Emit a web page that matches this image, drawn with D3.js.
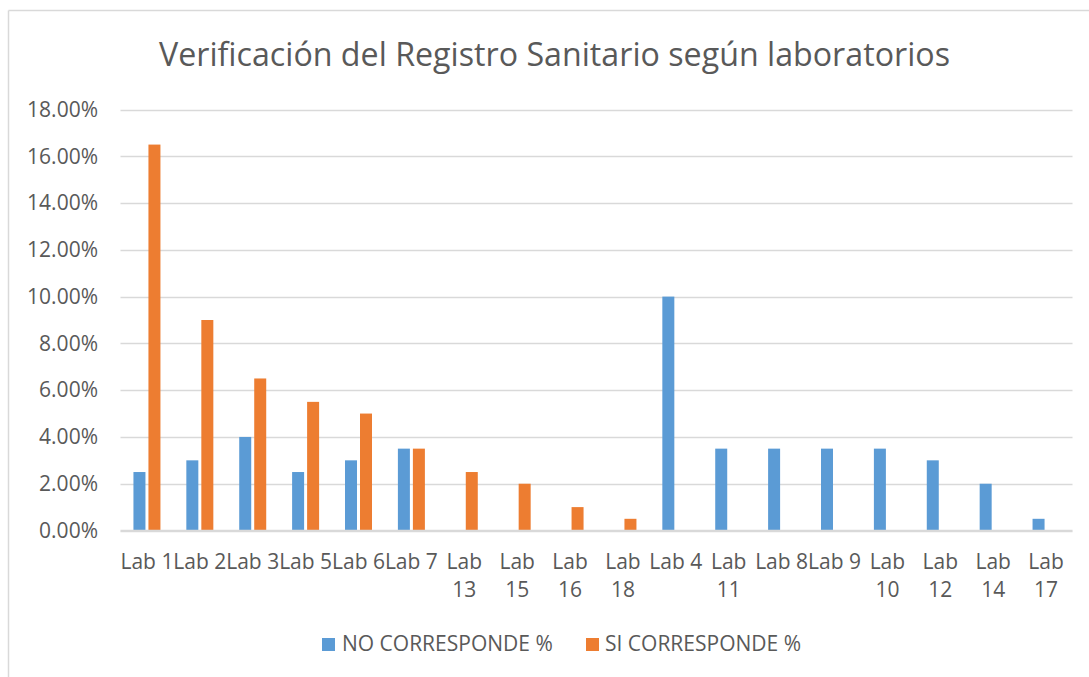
<!DOCTYPE html>
<html>
<head>
<meta charset="utf-8">
<script src="https://cdn.jsdelivr.net/npm/d3@7/dist/d3.min.js"></script>
<style>
  html, body { margin: 0; padding: 0; background: #ffffff; }
  svg { display: block; }
  text { font-family: "Open Sans", "Noto Sans", sans-serif; fill: #595959; }
</style>
</head>
<body>
<svg id="chart" width="1089" height="677"></svg>
<script>
const title = "Verificación del Registro Sanitario según laboratorios";
const categories = ["Lab 1","Lab 2","Lab 3","Lab 5","Lab 6","Lab 7","Lab 13","Lab 15","Lab 16","Lab 18","Lab 4","Lab 11","Lab 8","Lab 9","Lab 10","Lab 12","Lab 14","Lab 17"];
const seriesNames = ["NO CORRESPONDE %", "SI CORRESPONDE %"];
const noCorresponde = [2.5, 3.0, 4.0, 2.5, 3.0, 3.5, 0, 0, 0, 0, 10.0, 3.5, 3.5, 3.5, 3.5, 3.0, 2.0, 0.5];
const siCorresponde = [16.5, 9.0, 6.5, 5.5, 5.0, 3.5, 2.5, 2.0, 1.0, 0.5, 0, 0, 0, 0, 0, 0, 0, 0];
const yTicks = [0, 2, 4, 6, 8, 10, 12, 14, 16, 18];
const colors = ["#5B9BD5", "#ED7D31"];

const svg = d3.select("#chart");

// chart frame (left/top border)
svg.append("line").attr("x1", 8.5).attr("x2", 8.5).attr("y1", 10.5).attr("y2", 677)
  .attr("stroke", "#D9D9D9").attr("stroke-width", 1.5);
svg.append("line").attr("x1", 8.5).attr("x2", 1089).attr("y1", 10.5).attr("y2", 10.5)
  .attr("stroke", "#D9D9D9").attr("stroke-width", 1.5);

const plot = { left: 120.5, right: 1072.5, top: 109.5, bottom: 530.5 };

const x = d3.scaleBand().domain(categories).range([plot.left, plot.right]).padding(0);
const y = d3.scaleLinear().domain([0, 18]).range([plot.bottom, plot.top]);

// title
svg.append("text").attr("x", 159).attr("y", 66).attr("text-anchor", "start")
  .attr("font-size", 32).attr("textLength", 791).attr("lengthAdjust", "spacingAndGlyphs")
  .text(title);

// gridlines
svg.append("g").selectAll("line").data(yTicks).join("line")
  .attr("x1", plot.left).attr("x2", plot.right)
  .attr("y1", d => Math.round(y(d)) + 0.5).attr("y2", d => Math.round(y(d)) + 0.5)
  .attr("stroke", "#D9D9D9").attr("stroke-width", 1.3);

// y axis labels
const yAxis = d3.axisLeft(y).tickValues(yTicks).tickFormat(d => d.toFixed(2) + "%").tickSize(0).tickPadding(0);
const gy = svg.append("g").attr("transform", `translate(${98},0)`).call(yAxis);
gy.select(".domain").remove();
gy.selectAll("text").attr("font-size", 21).attr("fill", "#595959")
  .style("font-family", '"Open Sans", "Noto Sans", sans-serif');

// bars
const barW = 12, gap = 3;
const rows = categories.map((c, i) => ({ c, v: [noCorresponde[i], siCorresponde[i]] }));
const groups = svg.append("g").selectAll("g").data(rows).join("g")
  .attr("transform", d => `translate(${x(d.c) + x.bandwidth() / 2},0)`);
groups.selectAll("rect").data(d => d.v.map((v, k) => ({ v, k }))).join("rect")
  .filter(d => d.v > 0)
  .attr("x", d => d.k === 0 ? -(barW + gap / 2) : gap / 2)
  .attr("width", barW)
  .attr("y", d => y(d.v))
  .attr("height", d => y(0) - y(d.v))
  .attr("fill", d => colors[d.k]);

// x axis baseline
svg.append("line").attr("x1", plot.left).attr("x2", plot.right)
  .attr("y1", plot.bottom).attr("y2", plot.bottom)
  .attr("stroke", "#D9D9D9").attr("stroke-width", 1.5);

// x labels
const xl = svg.append("g").selectAll("text").data(categories).join("text")
  .attr("x", d => x(d) + x.bandwidth() / 2)
  .attr("y", 569)
  .attr("text-anchor", "middle")
  .attr("font-size", 21);
xl.each(function(d) {
  const t = d3.select(this);
  const parts = d.length > 5 ? d.split(" ") : [d];
  parts.forEach((p, i) => {
    t.append("tspan").attr("x", x(d) + x.bandwidth() / 2).attr("dy", i === 0 ? 0 : 28).text(p);
  });
});

// legend
const legendItems = [
  { name: seriesNames[0], color: colors[0], sx: 322, tx: 342 },
  { name: seriesNames[1], color: colors[1], sx: 586, tx: 605 }
];
const lg = svg.append("g");
legendItems.forEach(it => {
  lg.append("rect").attr("x", it.sx).attr("y", 638).attr("width", 13).attr("height", 13).attr("fill", it.color);
  lg.append("text").attr("x", it.tx).attr("y", 651).attr("font-size", 21).text(it.name);
});
</script>
</body>
</html>
